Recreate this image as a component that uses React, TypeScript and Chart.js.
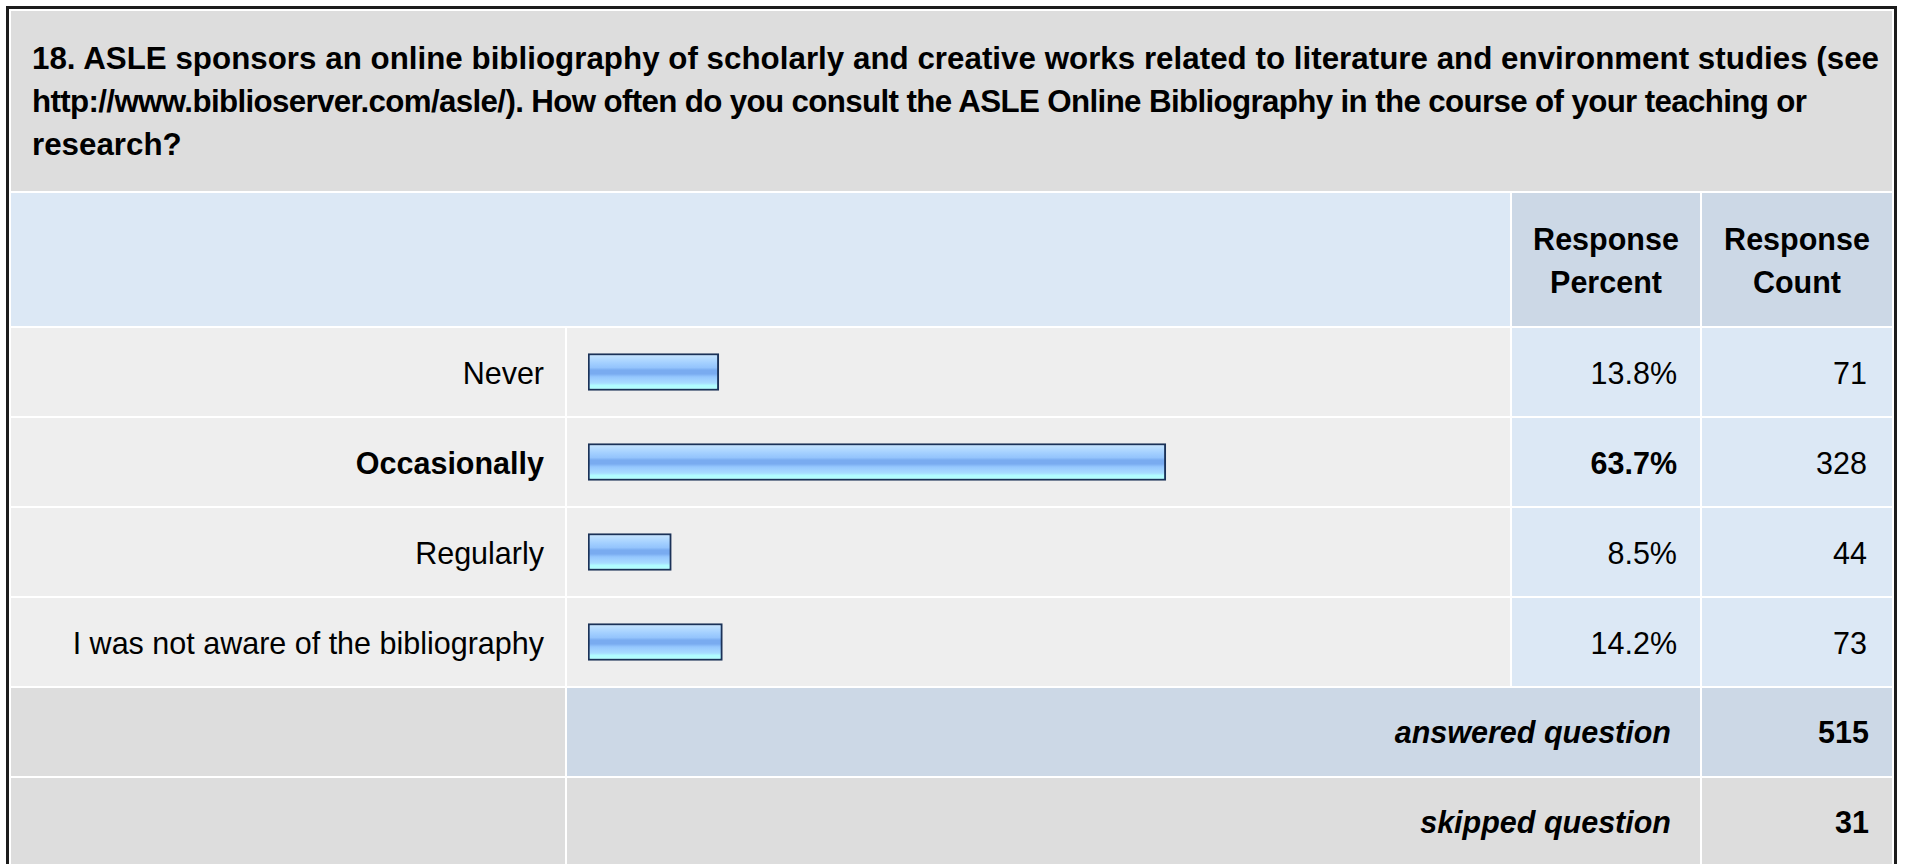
import React, { useEffect, useLayoutEffect, useRef } from "react";
import { Chart, registerables } from "chart.js";

Chart.register(...registerables);

const titleLines = [
  "18. ASLE sponsors an online bibliography of scholarly and creative works related to literature and environment studies (see",
  "http://www.biblioserver.com/asle/). How often do you consult the ASLE Online Bibliography in the course of your teaching or",
  "research?",
];
const headerPercent = ["Response", "Percent"];
const headerCount = ["Response", "Count"];
const categories = ["Never", "Occasionally", "Regularly", "I was not aware of the bibliography"];
const percents = [13.8, 63.7, 8.5, 14.2];
const percentLabels = ["13.8%", "63.7%", "8.5%", "14.2%"];
const counts = [71, 328, 44, 73];
const answeredLabel = "answered question";
const answeredCount = 515;
const skippedLabel = "skipped question";
const skippedCount = 31;

const FONT = "'Liberation Sans', Arial, Helvetica, sans-serif";

// layout (page px)
const L = { x: 11, w: 554 };
const B = { x: 567, w: 943 };
const P = { x: 1512, w: 188 };
const C = { x: 1702, w: 190 };
const ROW0 = 328;
const PITCH = 90;
const ROWH = 88;
const TITLE_LEFT = 32;
// right edge (page px) that each title line reaches in the reference rendering
const TITLE_LINE_ENDS = [1879, 1807, 0];

const GRAY = "#dddddd";
const ROWBG = "#eeeeee";
const LIGHTBLUE = "#dce8f5";
const GRAYBLUE = "#ccd8e6";

type CellProps = {
  x: number;
  y: number;
  w: number;
  h: number;
  bg: string;
  align?: "left" | "right" | "center";
  pr?: number;
  pl?: number;
  pt?: number;
  bold?: boolean;
  italic?: boolean;
  children?: React.ReactNode;
};

function Cell({ x, y, w, h, bg, align = "left", pr = 0, pl = 0, pt = 0, bold, italic, children }: CellProps) {
  return (
    <div
      style={{
        position: "absolute",
        left: x,
        top: y,
        width: w,
        height: h,
        background: bg,
        boxSizing: "border-box",
        paddingRight: pr,
        paddingLeft: pl,
        paddingTop: pt,
        display: "flex",
        flexDirection: "column",
        justifyContent: "center",
        textAlign: align,
        fontWeight: bold ? "bold" : "normal",
        fontStyle: italic ? "italic" : "normal",
        whiteSpace: "nowrap",
      }}
    >
      {children}
    </div>
  );
}

function BarChart() {
  const ref = useRef<HTMLCanvasElement | null>(null);
  useEffect(() => {
    if (!ref.current) return;
    const thickness = 37;
    const chart = new Chart(ref.current, {
      type: "bar",
      data: {
        labels: categories,
        datasets: [
          {
            data: percents,
            base: -0.8,
            barThickness: thickness,
            borderWidth: 2,
            borderColor: "#1b3258",
            borderSkipped: false,
            backgroundColor: (ctx: any) => {
              const ch = ctx.chart;
              const ys = ch.scales && ch.scales.y;
              if (!ys || ctx.dataIndex == null) return "#8fc0f8";
              const yc = ys.getPixelForValue(ctx.dataIndex);
              if (!isFinite(yc)) return "#8fc0f8";
              const g = ch.ctx.createLinearGradient(0, yc - thickness / 2, 0, yc + thickness / 2);
              g.addColorStop(0, "#d0e8ff");
              g.addColorStop(0.12, "#b8ddff");
              g.addColorStop(0.25, "#a4d0ff");
              g.addColorStop(0.38, "#94c4fc");
              g.addColorStop(0.45, "#79abf0");
              g.addColorStop(0.55, "#79abf0");
              g.addColorStop(0.63, "#94c6fd");
              g.addColorStop(0.72, "#a0d2ff");
              g.addColorStop(0.8, "#a8dcff");
              g.addColorStop(0.86, "#b0fbff");
              g.addColorStop(1, "#b6ffff");
              return g;
            },
          } as any,
        ],
      },
      options: {
        indexAxis: "y",
        responsive: false,
        maintainAspectRatio: false,
        animation: false,
        events: [],
        layout: { padding: { left: 21, right: 19, top: 0, bottom: 0 } },
        plugins: { legend: { display: false }, tooltip: { enabled: false }, title: { display: false } },
        scales: {
          x: { display: false, min: -0.8, max: 100 },
          y: { display: false },
        },
      },
    });
    return () => chart.destroy();
  }, []);
  return (
    <canvas
      ref={ref}
      width={B.w}
      height={PITCH * categories.length}
      style={{ position: "absolute", left: B.x, top: ROW0 - 1, width: B.w, height: PITCH * categories.length }}
    />
  );
}

function Title() {
  const refs = useRef<(HTMLSpanElement | null)[]>([]);
  useLayoutEffect(() => {
    refs.current.forEach((el, i) => {
      if (!el) return;
      const target = TITLE_LINE_ENDS[i];
      if (!target) return;
      el.style.letterSpacing = "0px";
      const r = el.getBoundingClientRect();
      const n = titleLines[i].length;
      const ls = (target - r.right) / Math.max(1, n - 1);
      el.style.letterSpacing = ls.toFixed(3) + "px";
    });
  }, []);
  return (
    <div style={{ fontSize: 31.3 }}>
      {titleLines.map((t, i) => (
        <div key={i}>
          <span
            ref={(el) => {
              refs.current[i] = el;
            }}
            style={{ display: "inline-block" }}
          >
            {t}
          </span>
        </div>
      ))}
    </div>
  );
}

export default function App() {
  const maxIdx = percents.indexOf(Math.max(...percents));
  const ansY = ROW0 + PITCH * categories.length;
  const skipY = ansY + PITCH;
  return (
    <div
      style={{
        position: "fixed",
        left: 0,
        top: 0,
        width: 1907,
        height: 864,
        overflow: "hidden",
        background: "#ffffff",
        fontFamily: FONT,
        fontSize: 30.5,
        color: "#000",
        lineHeight: "43px",
      }}
    >
      <div
        style={{
          position: "absolute",
          left: 6,
          top: 6,
          width: 1891,
          height: 900,
          border: "3px solid #1c1c1c",
          boxSizing: "border-box",
        }}
      />
      <Cell x={11} y={11} w={1881} h={180} bg={GRAY} pl={TITLE_LEFT - 11} bold>
        <Title />
      </Cell>
      <Cell x={L.x} y={193} w={P.x - 2 - L.x} h={133} bg={LIGHTBLUE} />
      <Cell x={P.x} y={193} w={P.w} h={133} bg={GRAYBLUE} align="center" pt={2} bold>
        {headerPercent.map((t, i) => (
          <div key={i}>{t}</div>
        ))}
      </Cell>
      <Cell x={C.x} y={193} w={C.w} h={133} bg={GRAYBLUE} align="center" pt={2} bold>
        {headerCount.map((t, i) => (
          <div key={i}>{t}</div>
        ))}
      </Cell>
      {categories.map((c, i) => {
        const y = ROW0 + PITCH * i;
        const b = i === maxIdx;
        return (
          <React.Fragment key={c}>
            <Cell x={L.x} y={y} w={L.w} h={ROWH} bg={ROWBG} align="right" pr={21} pt={3} bold={b}>
              {c}
            </Cell>
            <Cell x={B.x} y={y} w={B.w} h={ROWH} bg={ROWBG} />
            <Cell x={P.x} y={y} w={P.w} h={ROWH} bg={LIGHTBLUE} align="right" pr={23} pt={3} bold={b}>
              {percentLabels[i]}
            </Cell>
            <Cell x={C.x} y={y} w={C.w} h={ROWH} bg={LIGHTBLUE} align="right" pr={25} pt={3}>
              {counts[i]}
            </Cell>
          </React.Fragment>
        );
      })}
      <BarChart />
      <Cell x={L.x} y={ansY} w={L.w} h={ROWH} bg={GRAY} />
      <Cell x={B.x} y={ansY} w={P.x + P.w - B.x} h={ROWH} bg={GRAYBLUE} align="right" pr={29} bold italic>
        {answeredLabel}
      </Cell>
      <Cell x={C.x} y={ansY} w={C.w} h={ROWH} bg={GRAYBLUE} align="right" pr={23} bold>
        {answeredCount}
      </Cell>
      <Cell x={L.x} y={skipY} w={L.w} h={ROWH} bg={GRAY} />
      <Cell x={B.x} y={skipY} w={P.x + P.w - B.x} h={ROWH} bg={GRAY} align="right" pr={29} bold italic>
        {skippedLabel}
      </Cell>
      <Cell x={C.x} y={skipY} w={C.w} h={ROWH} bg={GRAY} align="right" pr={23} bold>
        {skippedCount}
      </Cell>
    </div>
  );
}
